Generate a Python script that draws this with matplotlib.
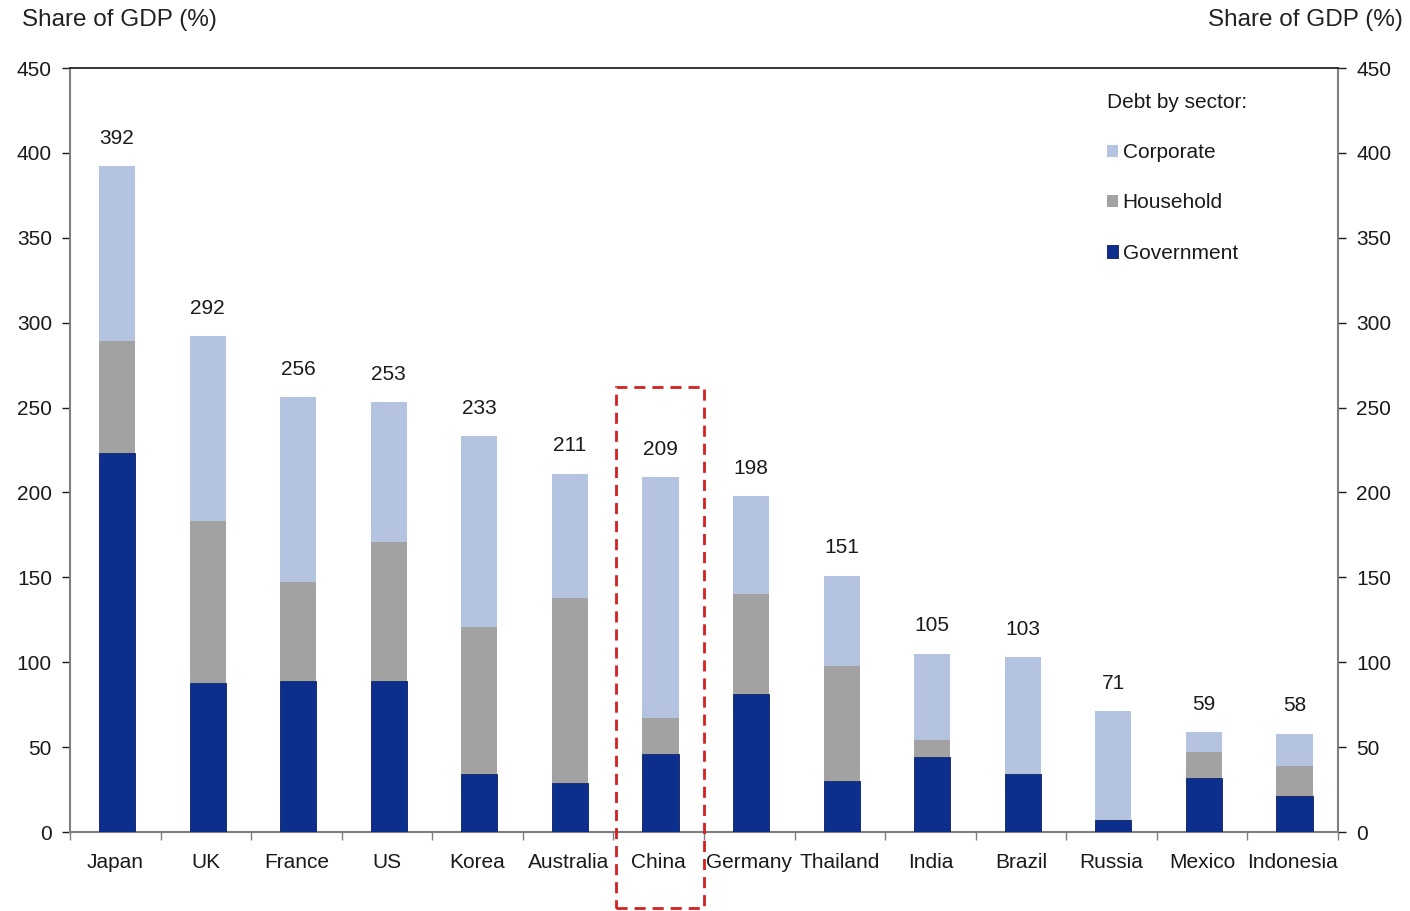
import matplotlib
matplotlib.use("Agg")
import matplotlib.pyplot as plt
import numpy as np
from matplotlib.patches import Rectangle, Patch

plt.rcParams['font.family'] = ['Liberation Sans', 'DejaVu Sans']

countries = ["Japan", "UK", "France", "US", "Korea", "Australia", "China",
             "Germany", "Thailand", "India", "Brazil", "Russia", "Mexico", "Indonesia"]
government = [223, 88, 89, 89, 34, 29, 46, 81, 30, 44, 34, 7, 32, 21]
household = [66, 95, 58, 82, 87, 109, 21, 59, 68, 10, 0, 0, 15, 18]
totals = [392, 292, 256, 253, 233, 211, 209, 198, 151, 105, 103, 71, 59, 58]
corporate = [t - g - h for t, g, h in zip(totals, government, household)]

c_corp = "#B4C3E0"
c_house = "#A2A2A2"
c_gov = "#0C2F8E"
txt = "#1a1a1a"
spine_c = "#7f7f7f"
fs = 15

fig = plt.figure(figsize=(14.1, 9.11), dpi=100)
ax = fig.add_axes([70/1410, 79/911, 1268/1410, 764/911])

x = np.arange(len(countries))
w = 0.4
gov = np.array(government)
hh = np.array(household)
co = np.array(corporate)
ax.bar(x + 0.02, gov, w, color=c_gov, edgecolor="#0a1f5e", linewidth=0.6, zorder=3)
ax.bar(x + 0.02, hh, w, bottom=gov, color=c_house, edgecolor="none", zorder=3)
ax.bar(x + 0.02, co, w, bottom=gov + hh, color=c_corp, edgecolor="none", zorder=3)

for xi, t in zip(x, totals):
    ax.annotate(str(t), (xi + 0.02, t), xytext=(0, 20), textcoords="offset points",
                ha="center", va="center", fontsize=fs, color=txt)

ax.set_xlim(-0.5, len(countries) - 0.5)
ax.set_ylim(0, 450)
ax.set_yticks(np.arange(0, 451, 50))
ax.tick_params(axis="y", labelsize=fs, colors=txt, length=6, width=1, direction="out",
               left=True, right=True, labelleft=True, labelright=True, pad=7)
for t in ax.yaxis.get_ticklines():
    t.set_color(spine_c)
ax.set_xticks(x)
ax.set_xticklabels(countries, fontsize=fs, color=txt)
ax.tick_params(axis="x", length=0, pad=15)
ax.set_xticks(np.arange(-0.5, len(countries), 1), minor=True)
ax.tick_params(axis="x", which="minor", length=6, width=1, color=spine_c, direction="out")

for s in ["left", "right", "bottom"]:
    ax.spines[s].set_color(spine_c)
    ax.spines[s].set_linewidth(1.5)
ax.spines["top"].set_color("#222222")
ax.spines["top"].set_linewidth(1.3)

fig.text(22/1410, 1 - 20/911, "Share of GDP (%)", fontsize=17.5, color="#222222",
         ha="left", va="center")
fig.text(1403/1410, 1 - 20/911, "Share of GDP (%)", fontsize=17.5, color="#222222",
         ha="right", va="center")

handles = [Patch(facecolor=c_corp, edgecolor="none"),
           Patch(facecolor=c_house, edgecolor="none"),
           Patch(facecolor=c_gov, edgecolor="#0a1f5e", linewidth=0.6)]
leg = ax.legend(handles, ["Corporate", "Household", "Government"],
                title="Debt by sector:", loc="upper left",
                bbox_to_anchor=(1107/1410, 1 - 93/911), bbox_transform=fig.transFigure,
                frameon=False, fontsize=fs, title_fontsize=fs,
                handlelength=0.55, handleheight=0.55, handletextpad=0.2,
                labelspacing=1.5, borderaxespad=0, borderpad=0)
leg._legend_box.align = "left"
leg.get_title().set_color(txt)
for t in leg.get_texts():
    t.set_color(txt)

# red dashed highlight box around China
ci = countries.index("China")
rect = Rectangle((ci - 0.485 + 0.01, -45), 0.97, 307, fill=False, edgecolor="#D42020",
                 linestyle=(0, (4, 2.5)), linewidth=2, clip_on=False, zorder=5)
ax.add_patch(rect)

fig.savefig("out.png", dpi=100)
